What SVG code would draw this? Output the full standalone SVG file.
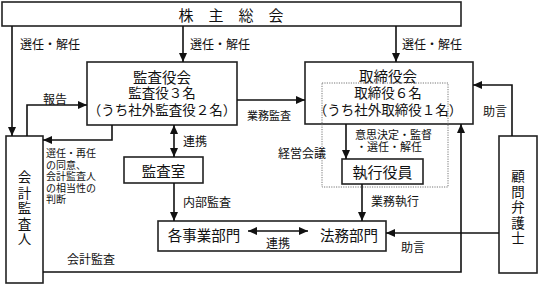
<svg xmlns="http://www.w3.org/2000/svg" width="546" height="285" viewBox="0 0 546 285">
<defs>
<marker id="arr" viewBox="0 0 9 8" refX="9" refY="4" markerWidth="9" markerHeight="8" markerUnits="userSpaceOnUse" orient="auto-start-reverse">
<path d="M0,0 L9,4 L0,8 z" fill="#111"/>
</marker>
<style>
text{font-family:"Noto Sans CJK JP","Noto Sans",sans-serif;fill:#111;dominant-baseline:central}
.box{fill:#fff;stroke:#222;stroke-width:1.6}
.dot{fill:none;stroke:#777;stroke-width:1;stroke-dasharray:1.2,1.2}
.ln{fill:none;stroke:#111;stroke-width:1.6}
.ar{marker-end:url(#arr)}
.da{marker-start:url(#arr);marker-end:url(#arr)}
.big{font-size:14.5px;text-anchor:middle}
.mid{font-size:13.5px;text-anchor:middle}
.lb{font-size:12px}
.sm{font-size:11px}
.xs{font-size:10px}
.vt{font-size:13.5px;text-anchor:middle;writing-mode:vertical-rl;letter-spacing:2px}
</style>
</defs>
<g id="shareholders">
<rect class="box" x="2" y="2" width="459" height="24"/>
<text class="big" x="231" y="14" style="font-size:15px">株　主　総　会</text>
</g>
<g id="audit-board">
<rect class="box" x="87" y="62" width="150" height="63"/>
<text class="big" x="162" y="76">監査役会</text>
<text class="mid" x="162" y="92">監査役３名</text>
<text class="mid" x="162" y="109">（うち社外監査役２名）</text>
</g>
<g id="board">
<rect class="box" x="305" y="62" width="168" height="62"/>
<text class="big" x="388" y="75">取締役会</text>
</g>
<g id="management-meeting">
<rect class="dot" x="322" y="83" width="126" height="104"/>
<text class="mid" x="388" y="92">取締役６名</text>
<text class="mid" x="388" y="109">（うち社外取締役１名）</text>
</g>
<g id="officers">
<rect class="box" x="342" y="159" width="81" height="25"/>
<text class="big" x="382.5" y="171.5" style="font-size:15px">執行役員</text>
</g>
<g id="audit-office">
<rect class="box" x="124" y="157" width="79" height="26"/>
<text class="big" x="163.5" y="170">監査室</text>
</g>
<g id="departments">
<rect class="box" x="158" y="221" width="228" height="30"/>
<text class="big" x="204" y="234">各事業部門</text>
<text class="big" x="349" y="234">法務部門</text>
</g>
<g id="accounting-auditor">
<rect class="box" x="6" y="136" width="37" height="147"/>
<text class="vt" x="24.5" y="209">会計監査人</text>
</g>
<g id="lawyer">
<rect class="box" x="499" y="136" width="38" height="137"/>
<text class="vt" x="518" y="208">顧問弁護士</text>
</g>
<g id="connectors">
<path class="ln ar" d="M12,26 V136"/>
<path class="ln ar" d="M183,26 V62"/>
<path class="ln ar" d="M396,26 V62"/>
<path class="ln ar" d="M27,136 V105 H87"/>
<path class="ln ar" d="M112,125 V140 H43"/>
<path class="ln da" d="M174,125 V157"/>
<path class="ln ar" d="M174,183 V221"/>
<path class="ln ar" d="M237,100 H305"/>
<path class="ln ar" d="M346,124 V159"/>
<path class="ln ar" d="M362,184 V221"/>
<path class="ln ar" d="M43,272 H461 V124"/>
<path class="ln ar" d="M512,136 V85 H473"/>
<path class="ln ar" d="M499,233 H386"/>
<path class="ln da" d="M248,231 H308"/>
<text class="lb" x="20" y="43">選任・解任</text>
<text class="lb" x="190" y="43">選任・解任</text>
<text class="lb" x="402" y="43">選任・解任</text>
<text class="lb" x="43" y="98">報告</text>
<text class="xs"><tspan x="46" y="152">選任・再任</tspan><tspan x="46" y="163.5">の同意、</tspan><tspan x="46" y="175">会計監査人</tspan><tspan x="46" y="186.5">の相当性の</tspan><tspan x="46" y="198">判断</tspan></text>
<text class="lb" x="183" y="140">連携</text>
<text class="lb" x="183" y="201">内部監査</text>
<text class="sm" x="247" y="115">業務監査</text>
<text class="lb" x="278" y="152">経営会議</text>
<text class="sm" x="355" y="133.5">意思決定・監督</text>
<text class="sm" x="356" y="146">・選任・解任</text>
<text class="lb" x="371" y="200">業務執行</text>
<text class="lb" x="67" y="258">会計監査</text>
<text class="lb" x="483" y="110">助言</text>
<text class="lb" x="401" y="246">助言</text>
<text class="lb" x="266" y="242">連携</text>
</g>
</svg>
